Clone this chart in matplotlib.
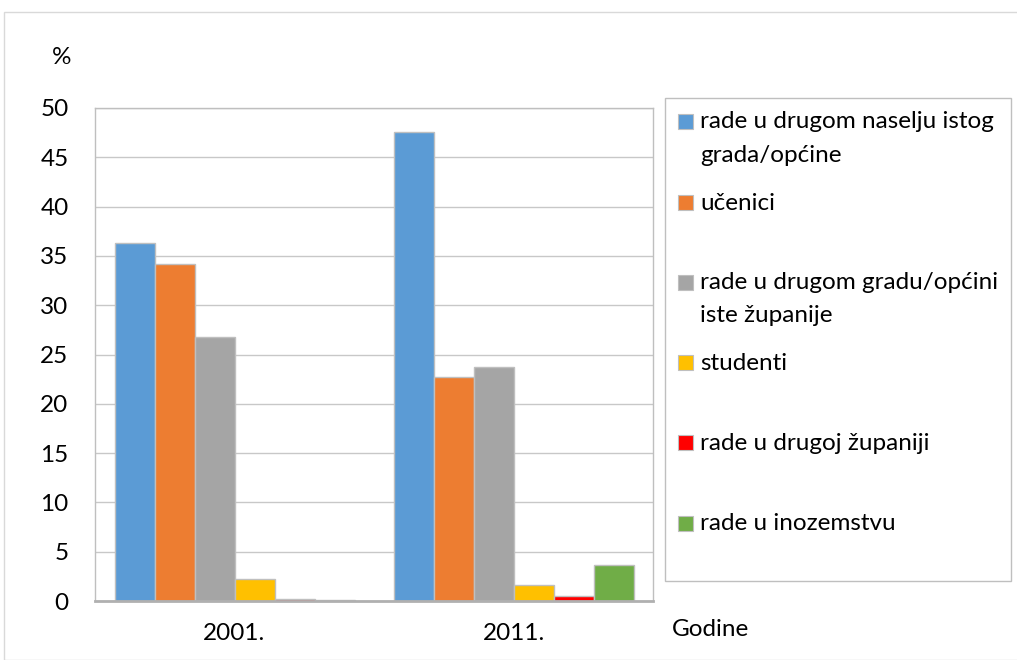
import matplotlib; matplotlib.use("Agg")
import matplotlib.pyplot as plt
from matplotlib.patches import Rectangle
import numpy as np

plt.rcParams['font.family'] = ['Lato', 'DejaVu Sans']

years = ["2001.", "2011."]
labels = ["rade u drugom naselju istog\ngrada/općine", "učenici",
          "rade u drugom gradu/općini\niste županije", "studenti",
          "rade u drugoj županiji", "rade u inozemstvu"]
v2001 = [36.3, 34.2, 26.8, 2.2, 0.2, 0.1]
v2011 = [47.6, 22.7, 23.7, 1.6, 0.5, 3.7]
colors = ["#5B9BD5", "#ED7D31", "#A5A5A5", "#FFC000", "#FF0000", "#70AD47"]
# legend row centres in pixels from top (uneven, as in the source)
leg_rows = [122, 203, 283, 363, 443, 524]

W, H = 1017, 660
FS = 17.5
fig = plt.figure(figsize=(W/100, H/100), dpi=100)
fig.patches.append(Rectangle((4/W, 0), 1.2, 1-12/H, transform=fig.transFigure,
                             fill=False, ec="#d9d9d9", lw=1))
ax = fig.add_axes([95/W, 1-601/H, 558/W, 493/H])

x = np.arange(len(years))
bw = 40/279
for i in range(len(labels)):
    ax.bar(x + (i-2.5)*bw, [v2001[i], v2011[i]], width=bw, color=colors[i],
           edgecolor="#bfbfbf", lw=1, zorder=2)
ax.set_xlim(-0.5, 1.5); ax.set_ylim(0, 50)
ax.set_yticks(range(0, 51, 5))
ax.set_xticks(x); ax.set_xticklabels(years)
ax.grid(axis="y", color="#c8c8c8", lw=1, zorder=0)
ax.set_axisbelow(True)
ax.tick_params(length=0, labelsize=FS, colors="#000000")
ax.tick_params(axis="y", pad=19)
ax.tick_params(axis="x", pad=16)
for s in ["top", "right", "left"]:
    ax.spines[s].set_color("#bfbfbf"); ax.spines[s].set_lw(1)
ax.spines["bottom"].set_color("#b0b0b0"); ax.spines["bottom"].set_lw(2)

fig.text(62/W, 1-57/H, "%", fontsize=FS, ha="center", va="center")
fig.text(672/W, 1-630/H, "Godine", fontsize=FS, ha="left", va="center")

# legend, drawn by hand
fig.patches.append(Rectangle((665/W, 1-581/H), 346/W, 483/H, transform=fig.transFigure,
                             fill=False, ec="#bfbfbf", lw=1))
for lab, c, yc in zip(labels, colors, leg_rows):
    fig.patches.append(Rectangle((678/W, 1-(yc+7)/H), 15/W, 15/H, transform=fig.transFigure,
                                 fc=c, ec="#bfbfbf", lw=0.8))
    for k, line in enumerate(lab.split("\n")):
        fig.text(700/W, 1-(yc+33*k)/H, line, fontsize=FS, ha="left", va="center")

fig.savefig("out.png", dpi=100)
